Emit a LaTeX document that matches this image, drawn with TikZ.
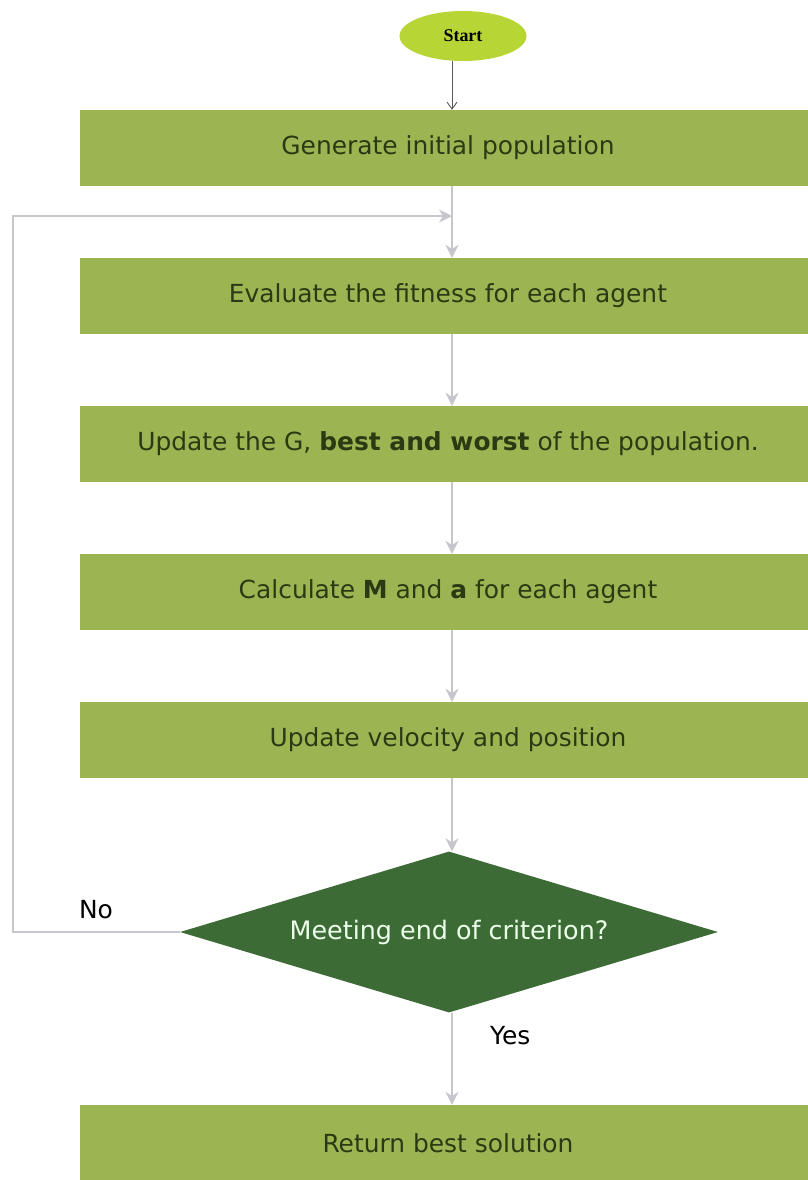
\documentclass[tikz,border=0pt]{standalone}
\usepackage{fontspec}
\setmainfont{DejaVu Sans}
\newfontfamily\startfont{Liberation Serif}
\usetikzlibrary{positioning,arrows.meta,shapes.geometric}
\definecolor{boxgreen}{HTML}{9BB553}
\definecolor{darkgreen}{HTML}{3D6B35}
\definecolor{limegreen}{HTML}{B8D536}
\definecolor{boxtext}{HTML}{2C3A14}
\definecolor{flowgray}{HTML}{C6C6CC}

\tikzset{
  procbox/.style={fill=boxgreen,minimum width=736bp,minimum height=76bp,
    inner sep=0pt,text=boxtext,font=\fontsize{25}{30}\selectfont},
  decbox/.style={diamond,fill=darkgreen,minimum width=538bp,minimum height=161bp,
    aspect=3.3,inner sep=0pt,text=white!92!green,font=\fontsize{25.5}{30}\selectfont},
  flow/.style={draw=flowgray,line width=1.5bp,-{Stealth[length=13bp,width=13bp]}},
  flowline/.style={draw=flowgray,line width=1.5bp}
}

\begin{document}
\begin{tikzpicture}[x=1bp,y=-1bp]
  \useasboundingbox[fill=white](0,0) rectangle (808,1180);
  % main column
  \coordinate (spine) at (452,0);
  \node[ellipse,fill=limegreen,minimum width=127bp,minimum height=50bp,inner sep=0pt,
    font=\startfont\bfseries\fontsize{18}{21}\selectfont] (start) at (463,36) {Start};
  \node[procbox] (gen) at (448,148) {Generate initial population};
  \node[procbox] (eval) at (448,296) {Evaluate the fitness for each agent};
  \node[procbox] (upd) at (448,444)
    {Update the G, \textbf{best and worst} of the population.};
  \node[procbox] (calc) at (448,592) {Calculate \textbf{M} and \textbf{a} for each agent};
  \node[procbox] (move) at (448,740) {Update velocity and position};
  \node[decbox] (crit) at (449,932) {Meeting end of criterion?};
  \node[procbox] (ret) at (448,1143) {Return best solution};

  % arrows down the column
  \draw[draw=black!65,line width=0.9bp,-{Straight Barb[length=7bp,width=10bp]}]
    (start.south -| spine) -- (gen.north -| spine);
  \coordinate (join) at (452,216);
  \draw[flowline] (gen.south -| spine) -- (join);
  \draw[flow] (join) -- (eval.north -| spine);
  \draw[flow] (eval.south -| spine) -- (upd.north -| spine);
  \draw[flow] (upd.south -| spine) -- (calc.north -| spine);
  \draw[flow] (calc.south -| spine) -- (move.north -| spine);
  \draw[flow] (move.south -| spine) -- (crit.north -| spine);
  \draw[flow] (crit.south -| spine) -- (ret.north -| spine)
    node[pos=0.25,right=34bp,font=\fontsize{25}{30}\selectfont] (yes) {Yes};

  % loop back
  \coordinate (corner) at (13,932);
  \draw[flow] (crit.west) -- (corner) |- (join);
  \node[font=\fontsize{25}{30}\selectfont] (no) at (96,910) {No};
\end{tikzpicture}
\end{document}
